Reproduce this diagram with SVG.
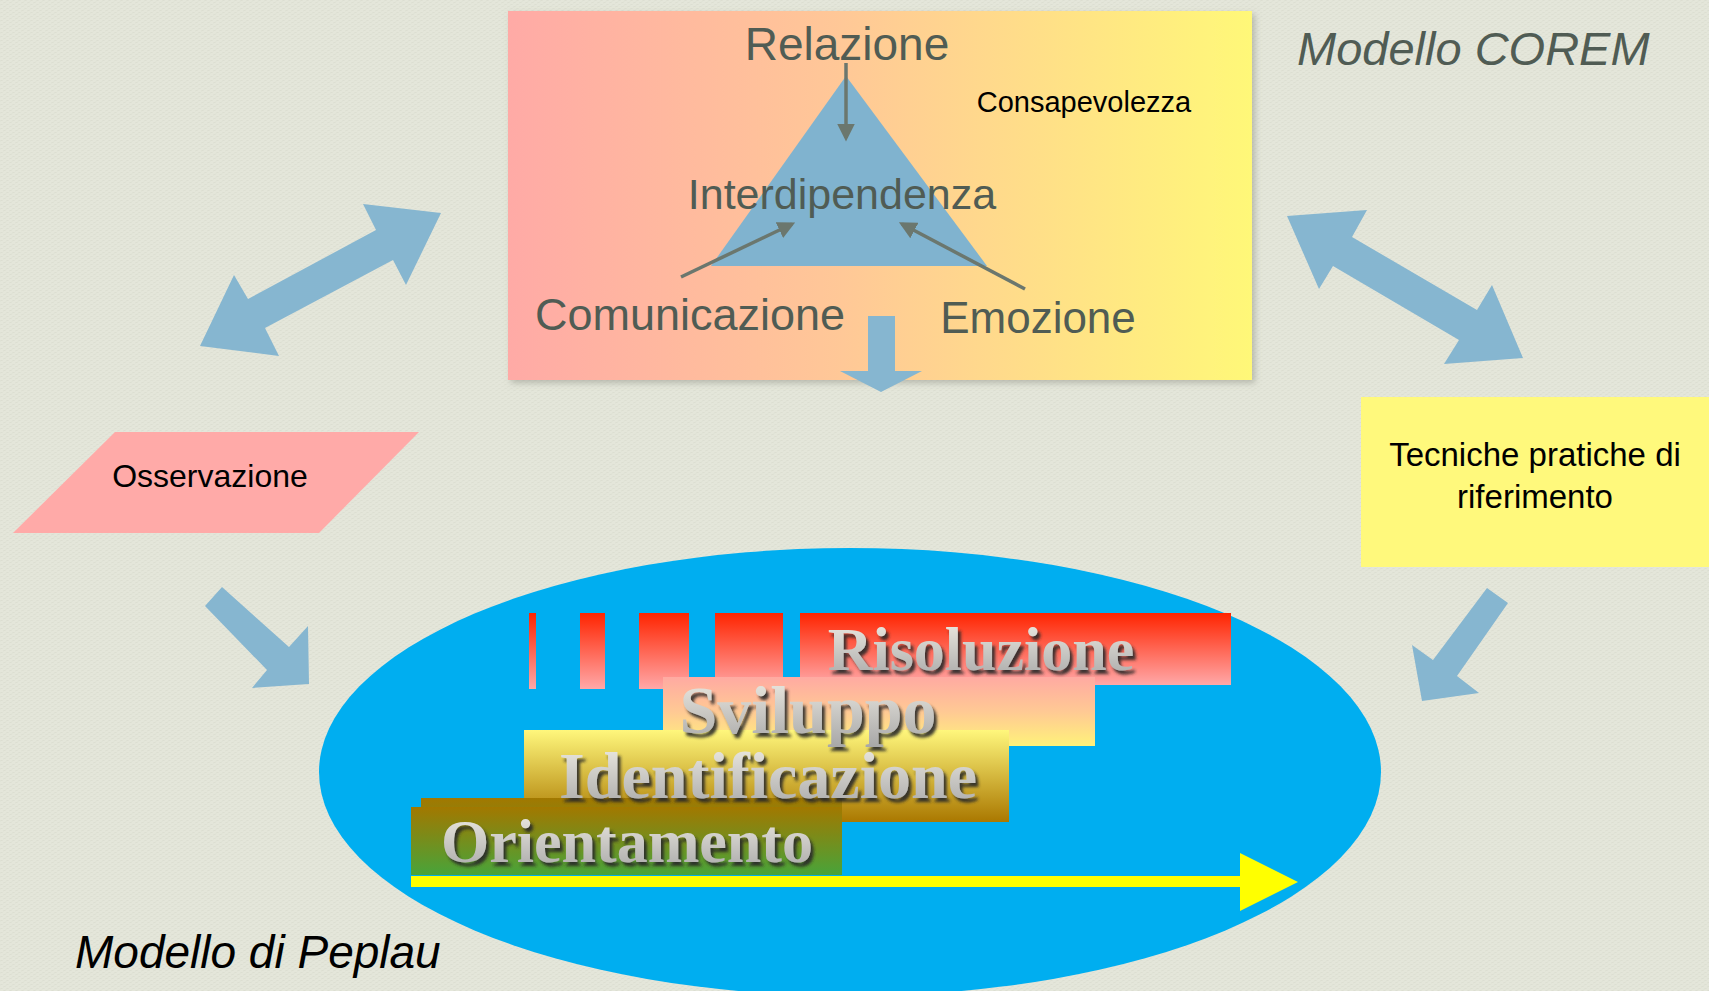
<svg xmlns="http://www.w3.org/2000/svg" width="1709" height="991" viewBox="0 0 1709 991">
  <style>
    .corem { font-family: "Liberation Sans", Arial, sans-serif; fill: #505c54; }
    .blk { font-family: "Liberation Sans", Arial, sans-serif; fill: #000; }
    .title { font-family: "Liberation Sans", Arial, sans-serif; font-style: italic; }
    .phase { font-family: "Liberation Serif", "Times New Roman", serif; font-weight: bold; fill: url(#txtGrad); filter: url(#txtShadow); }
    .blockArrow { fill: #86b6d0; }
    .thin { stroke: #6b776e; stroke-width: 3.5; fill: none; marker-end: url(#ah); }
  </style>
  <defs>
    <pattern id="tex" width="6" height="4" patternUnits="userSpaceOnUse">
      <rect width="6" height="4" fill="#e4e6da"/>
      <path d="M0 1 L3 0 M3 3 L6 2" stroke="#dadccf" stroke-width="0.8"/>
    </pattern>
    <linearGradient id="boxGrad" x1="0" y1="0" x2="1" y2="0">
      <stop offset="0" stop-color="#ffaaa6"/>
      <stop offset="0.45" stop-color="#ffc897"/>
      <stop offset="1" stop-color="#fff878"/>
    </linearGradient>
    <linearGradient id="risGrad" x1="0" y1="0" x2="0" y2="1">
      <stop offset="0" stop-color="#ff2400"/>
      <stop offset="1" stop-color="#ffa8a8"/>
    </linearGradient>
    <linearGradient id="risStripe" gradientUnits="userSpaceOnUse" x1="0" y1="613" x2="0" y2="689">
      <stop offset="0" stop-color="#ff2400"/>
      <stop offset="1" stop-color="#ffa8a8"/>
    </linearGradient>
    <linearGradient id="svilGrad" x1="0" y1="0" x2="0" y2="1">
      <stop offset="0" stop-color="#ffaaa2"/>
      <stop offset="0.5" stop-color="#ffc994"/>
      <stop offset="1" stop-color="#fff27a"/>
    </linearGradient>
    <linearGradient id="identGrad" x1="0" y1="0" x2="0" y2="1">
      <stop offset="0" stop-color="#fff77c"/>
      <stop offset="1" stop-color="#aa7800"/>
    </linearGradient>
    <linearGradient id="orientGrad" x1="0" y1="0" x2="0" y2="1">
      <stop offset="0" stop-color="#a27800"/>
      <stop offset="1" stop-color="#48a43a"/>
    </linearGradient>
    <linearGradient id="txtGrad" x1="0" y1="0" x2="0" y2="1">
      <stop offset="0" stop-color="#f2efe6"/>
      <stop offset="1" stop-color="#a6a6a6"/>
    </linearGradient>
    <filter id="txtShadow" x="-10%" y="-20%" width="130%" height="150%">
      <feDropShadow dx="3" dy="4" stdDeviation="1.8" flood-color="#2a2a2a" flood-opacity="0.9"/>
    </filter>
    <filter id="boxShadow" x="-5%" y="-5%" width="115%" height="115%">
      <feDropShadow dx="3" dy="3" stdDeviation="3" flood-color="#8a8c80" flood-opacity="0.5"/>
    </filter>
    <marker id="ah" markerWidth="5" markerHeight="5" refX="4" refY="2.5" orient="auto" markerUnits="strokeWidth">
      <path d="M0 0 L5 2.5 L0 5 Z" fill="#6b776e"/>
    </marker>
  </defs>

  <rect width="1709" height="991" fill="url(#tex)"/>

  <!-- COREM node -->
  <g id="corem">
    <rect x="508" y="11" width="744" height="369" fill="url(#boxGrad)" filter="url(#boxShadow)"/>
    <polygon points="846,76 711,266 987,266" fill="#80b3cf"/>
    <text class="corem" x="847" y="60" font-size="46" text-anchor="middle">Relazione</text>
    <text class="corem" x="842" y="209" font-size="43" text-anchor="middle">Interdipendenza</text>
    <text class="corem" x="690" y="330" font-size="45" text-anchor="middle">Comunicazione</text>
    <text class="corem" x="1038" y="333" font-size="44" text-anchor="middle">Emozione</text>
    <text class="blk" x="1084" y="112" font-size="29" text-anchor="middle">Consapevolezza</text>
    <path class="thin" d="M846 63 L846 138"/>
    <path class="thin" d="M681 277 L792 224"/>
    <path class="thin" d="M1025 289 L902 224"/>
  </g>

  <!-- Titles -->
  <g id="title-corem">
    <text class="title" x="1297" y="65" font-size="47" fill="#505c54">Modello COREM</text>
  </g>
  <g id="title-peplau">
    <text class="title" x="75" y="968" font-size="46" fill="#000">Modello di Peplau</text>
  </g>

  <!-- Osservazione node -->
  <g id="osservazione">
    <polygon points="115,432 419,432 319,533 13,533" fill="#ffaaa8"/>
    <text class="blk" x="210" y="487" font-size="32" text-anchor="middle">Osservazione</text>
  </g>

  <!-- Tecniche node -->
  <g id="tecniche">
    <rect x="1361" y="397" width="348" height="170" fill="#fff97c"/>
    <text class="blk" x="1535" y="466" font-size="33" text-anchor="middle">Tecniche pratiche di</text>
    <text class="blk" x="1535" y="508" font-size="33" text-anchor="middle">riferimento</text>
  </g>

  <!-- Peplau node -->
  <g id="peplau">
    <ellipse cx="850" cy="772" rx="531" ry="224" fill="#00aef0"/>
    <g id="risoluzione">
      <rect x="529" y="613" width="7" height="76" fill="url(#risStripe)"/>
      <rect x="580" y="613" width="25" height="76" fill="url(#risStripe)"/>
      <rect x="639" y="613" width="50" height="76" fill="url(#risStripe)"/>
      <rect x="715" y="613" width="68" height="76" fill="url(#risStripe)"/>
      <rect x="800" y="613" width="431" height="72" fill="url(#risGrad)"/>
    </g>
    <g id="sviluppo">
      <rect x="663" y="677" width="432" height="69" fill="url(#svilGrad)"/>
    </g>
    <g id="identificazione">
      <rect x="524" y="730" width="485" height="92" fill="url(#identGrad)"/>
    </g>
    <g id="orientamento">
      <rect x="421" y="798" width="421" height="77" fill="url(#orientGrad)"/>
      <rect x="411" y="807" width="431" height="68" fill="url(#orientGrad)"/>
    </g>
    <g id="phase-labels">
      <text class="phase" x="981" y="670" font-size="62" text-anchor="middle">Risoluzione</text>
      <text class="phase" x="808" y="733" font-size="68" text-anchor="middle">Sviluppo</text>
      <text class="phase" x="768" y="798" font-size="66" text-anchor="middle">Identificazione</text>
      <text class="phase" x="627" y="862" font-size="62" text-anchor="middle">Orientamento</text>
    </g>
    <polygon points="411,876 1240,876 1240,853 1298,882 1240,911 1240,887 411,887" fill="#ffff00"/>
  </g>

  <!-- Connectors -->
  <g id="connectors">
    <polygon class="blockArrow" points="441,213 406,285 393,260 265,328 279,356 200,346 234,275 248,299 376,230 363,204"/>
    <polygon class="blockArrow" points="1287,216 1367,210 1352,237 1477,310 1492,285 1523,358 1444,364 1459,340 1333,266 1319,289"/>
    <polygon class="blockArrow" points="868,316 895,316 895,371 922,371 881,392 840,371 868,371"/>
    <polygon class="blockArrow" points="222,587 289,647 308,626 309,684 252,688 267,670 205,606"/>
    <polygon class="blockArrow" points="1487,588 1508,603 1457,676 1479,693 1422,701 1412,645 1433,660"/>
  </g>
</svg>
